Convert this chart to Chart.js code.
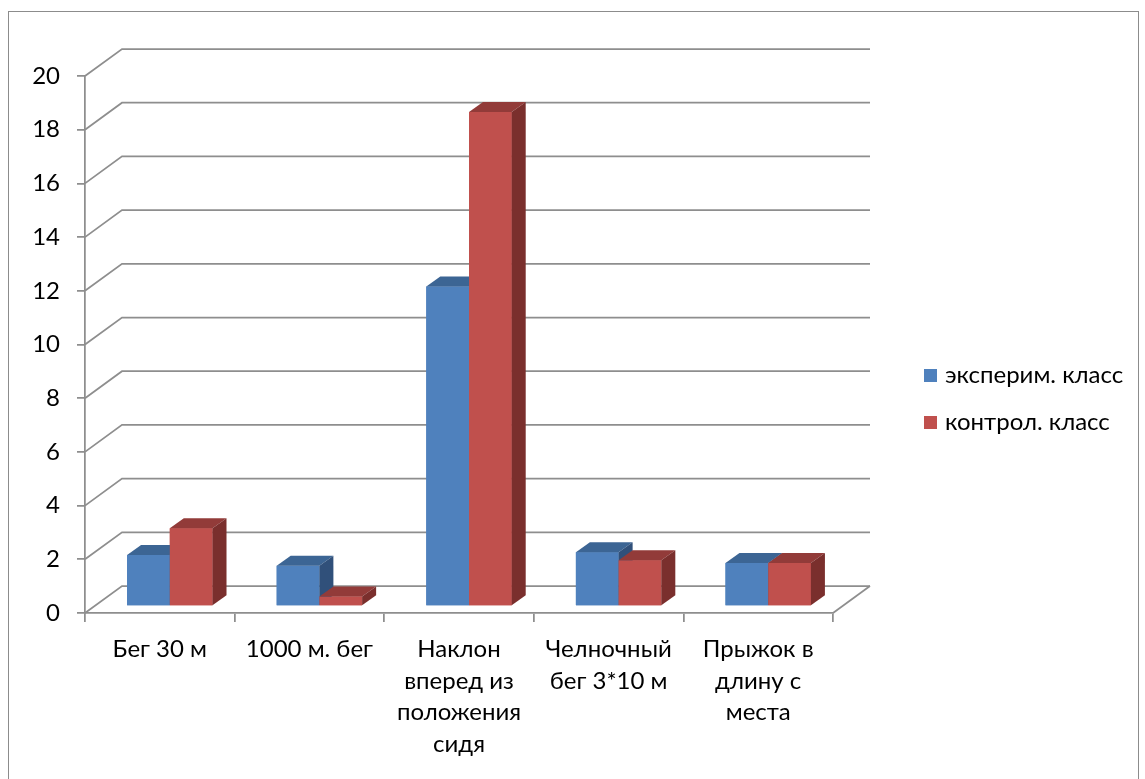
<!DOCTYPE html>
<html lang="ru">
<head>
<meta charset="utf-8">
<title>Результаты тестов</title>
<script src="https://cdn.jsdelivr.net/npm/chart.js@4.4.1/dist/chart.umd.min.js"></script>
<style>
  html, body { margin: 0; padding: 0; background: #ffffff; }
  #frame {
    position: absolute; left: 8px; top: 11px; width: 1131px; height: 820px;
    border: 1px solid #8c8c8c; box-sizing: border-box;
  }
  #chart { position: absolute; left: 0; top: 0; }
</style>
</head>
<body>
<div id="frame"></div>
<canvas id="chart" width="1145" height="779"></canvas>
<script>
// Test categories (wrapped into lines as they appear under the axis)
const categories = [
  ['Бег 30 м'],
  ['1000 м. бег'],
  ['Наклон', 'вперед из', 'положения', 'сидя'],
  ['Челночный', 'бег 3*10 м'],
  ['Прыжок в', 'длину с', 'места']
];
const seriesNames = ['эксперим. класс', 'контрол. класс'];
const experimentalValues = [1.9, 1.5, 11.9, 2.0, 1.6];
const controlValues = [2.9, 0.35, 18.4, 1.7, 1.6];
const yTickValues = [0, 2, 4, 6, 8, 10, 12, 14, 16, 18, 20];

const FONT = 'Lato, "Liberation Sans", sans-serif';
const FONT_SIZE = 24;
const GRID = '#8e8e8e';

// Oblique 3D geometry: depth of the floor, position of bars inside it, bar depth
const WALL = { dx: 37, dy: -27 };
const BAR_SHIFT = { dx: 10, dy: -7 };
const BAR_DEPTH = { dx: 14, dy: -10 };

const faceColors = [
  { front: '#4F81BD', top: '#3C6594', side: '#30507A' },
  { front: '#C0504D', top: '#923B39', side: '#7A2F2D' }
];

function drawBarFaces(ctx, el, c) {
  const p = el.getProps(['x', 'y', 'base', 'width'], true);
  const l = p.x - p.width / 2, r = p.x + p.width / 2;
  const t = Math.min(p.y, p.base), b = Math.max(p.y, p.base);
  // top face
  ctx.fillStyle = c.top;
  ctx.beginPath();
  ctx.moveTo(l, t);
  ctx.lineTo(r, t);
  ctx.lineTo(r + BAR_DEPTH.dx, t + BAR_DEPTH.dy);
  ctx.lineTo(l + BAR_DEPTH.dx, t + BAR_DEPTH.dy);
  ctx.closePath();
  ctx.fill();
  // right side face
  ctx.fillStyle = c.side;
  ctx.beginPath();
  ctx.moveTo(r, t);
  ctx.lineTo(r + BAR_DEPTH.dx, t + BAR_DEPTH.dy);
  ctx.lineTo(r + BAR_DEPTH.dx, b + BAR_DEPTH.dy);
  ctx.lineTo(r, b);
  ctx.closePath();
  ctx.fill();
}

const threeD = {
  id: 'threeD',
  beforeDatasetsDraw(chart) {
    const { ctx } = chart;
    const x = chart.scales.x, y = chart.scales.y;
    // back wall grid lines with their slanted side-wall parts
    ctx.save();
    ctx.strokeStyle = GRID;
    ctx.lineWidth = 1.75;
    yTickValues.forEach(v => {
      const py = y.getPixelForValue(v);
      ctx.beginPath();
      ctx.moveTo(x.left, py);
      ctx.lineTo(x.left + WALL.dx, py + WALL.dy);
      ctx.lineTo(x.right + WALL.dx, py + WALL.dy);
      ctx.stroke();
    });
    // right edge of the floor
    const p0 = y.getPixelForValue(0);
    ctx.beginPath();
    ctx.moveTo(x.right, p0);
    ctx.lineTo(x.right + WALL.dx, p0 + WALL.dy);
    ctx.stroke();
    ctx.restore();
    // bars stand a little inside the floor
    ctx.save();
    ctx.translate(BAR_SHIFT.dx, BAR_SHIFT.dy);
  },
  afterDatasetsDraw(chart) {
    const { ctx } = chart;
    // left-to-right series order so that each column hides the side of its neighbour
    chart.data.datasets.forEach((ds, i) => {
      const meta = chart.getDatasetMeta(i);
      meta.data.forEach(el => {
        el.draw(ctx);
        drawBarFaces(ctx, el, faceColors[i]);
      });
    });
    ctx.restore();
  },
  afterDraw(chart) {
    // legend to the right of the plot
    const { ctx } = chart;
    ctx.save();
    ctx.font = FONT_SIZE + 'px ' + FONT;
    ctx.textBaseline = 'middle';
    ctx.textAlign = 'left';
    const rows = [375.5, 422.5];
    chart.data.datasets.forEach((ds, i) => {
      ctx.fillStyle = ds.backgroundColor;
      ctx.fillRect(924, rows[i] - 6.5, 13, 13);
      ctx.fillStyle = '#000000';
      ctx.fillText(ds.label, 945, rows[i]);
    });
    ctx.restore();
  }
};

new Chart(document.getElementById('chart'), {
  type: 'bar',
  data: {
    labels: categories,
    datasets: [
      { label: seriesNames[0], data: experimentalValues, backgroundColor: faceColors[0].front },
      { label: seriesNames[1], data: controlValues, backgroundColor: faceColors[1].front }
    ]
  },
  options: {
    responsive: false,
    animation: false,
    devicePixelRatio: 1,
    layout: { padding: { left: 0, top: 76, right: 312, bottom: 0 } },
    datasets: { bar: { barPercentage: 1, categoryPercentage: 0.571, borderWidth: 0, clip: false } },
    plugins: { legend: { display: false }, tooltip: { enabled: false } },
    events: [],
    scales: {
      x: {
        offset: true,
        afterFit(s) { s.height = 166; },
        grid: { display: true, drawOnChartArea: false, drawTicks: true, tickLength: 9, color: GRID, lineWidth: 1.75, offset: true },
        border: { display: true, color: GRID, width: 1.75 },
        ticks: { color: '#000000', padding: 12, maxRotation: 0, autoSkip: false, font: { family: FONT, size: FONT_SIZE, lineHeight: '31.5px' } }
      },
      y: {
        min: 0, max: 20,
        afterFit(s) { s.width = 85; },
        afterBuildTicks(s) { s.ticks = yTickValues.map(v => ({ value: v })); },
        grid: { display: true, drawOnChartArea: false, drawTicks: true, tickLength: 8, color: GRID, lineWidth: 1.75 },
        border: { display: true, color: GRID, width: 1.75 },
        ticks: { color: '#000000', padding: 17, font: { family: FONT, size: FONT_SIZE } }
      }
    }
  },
  plugins: [threeD]
});
</script>
</body>
</html>
